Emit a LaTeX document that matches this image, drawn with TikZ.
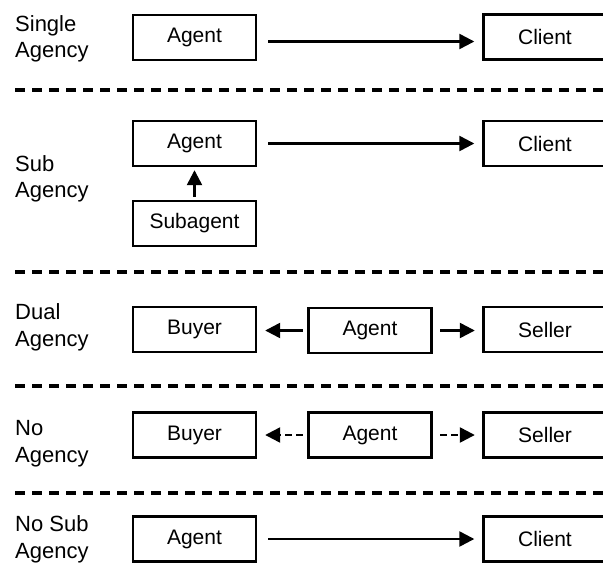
\documentclass[tikz,border=0pt]{standalone}
\usepackage{fontspec}
\setmainfont{Liberation Sans}
\usetikzlibrary{arrows.meta}
\begin{document}
\begin{tikzpicture}[x=1pt,y=-1pt,
  box/.style={draw,line width=2.4pt,minimum width=123pt,minimum height=45pt,inner sep=0pt,font=\fontsize{21}{25}\selectfont},
  lbl/.style={anchor=base west,align=left,inner sep=0pt,font=\fontsize{22}{26.7}\selectfont},
  arr/.style={line width=2.4pt,-{Triangle[length=15pt,width=15pt]}},
  darr/.style={arr,dash pattern=on 7pt off 4pt},
  sep/.style={line width=3.2pt,dash pattern=on 10pt off 7pt}]
\clip (0,0) rectangle (603,563);
% labels (anchored at the baseline of the last line)
\node[lbl] (l1) at (15,57.7) {Single\\Agency};
\node[lbl] (l2) at (15,197.7) {Sub\\Agency};
\node[lbl] (l3) at (15,346) {Dual\\Agency};
\node[lbl] (l4) at (15,462.5) {No\\Agency};
\node[lbl] (l5) at (15,558.3) {No Sub\\Agency};
% row 1
\node[box] (a1) at (194.5,37.5) {Agent};
\node[box] (c1) at (545,37) {Client};
\draw[arr,shorten <=11pt,shorten >=8pt] ([yshift=-4pt]a1.east) -- ([yshift=-4pt]a1.east -| c1.west);
% row 2
\node[box] (a2) at (194.5,143.5) {Agent};
\node[box] (c2) at (545,143.5) {Client};
\node[box] (s2) at (194.5,223.5) {Subagent};
\draw[arr,shorten <=11pt,shorten >=8pt] (a2) -- (c2);
\draw[arr,shorten <=3pt,shorten >=3pt] (s2) -- (a2);
% row 3
\node[box] (b3) at (194.5,329.5) {Buyer};
\node[box] (a3) at (370,330.5) {Agent};
\node[box] (e3) at (545,329.5) {Seller};
\draw[arr,shorten <=4.5pt,shorten >=8pt] (a3.west) -- (a3.west -| b3.east);
\draw[arr,shorten <=7.5pt,shorten >=7.5pt] (a3.east) -- (a3.east -| e3.west);
% row 4
\node[box] (b4) at (194.5,435) {Buyer};
\node[box] (a4) at (370,435) {Agent};
\node[box] (e4) at (545,435) {Seller};
\draw[darr,shorten <=4.5pt,shorten >=8pt] (a4) -- (b4);
\draw[darr,shorten <=7.5pt,shorten >=7.5pt] (a4) -- (e4);
% row 5
\node[box] (a5) at (194.5,539) {Agent};
\node[box] (c5) at (545,539) {Client};
\draw[arr,shorten <=11pt,shorten >=8pt] (a5) -- (c5);
% separators
\draw[sep] (15,90) -- (603,90);
\draw[sep] (15,272) -- (603,272);
\draw[sep] (15,386) -- (603,386);
\draw[sep] (15,493) -- (603,493);
\end{tikzpicture}
\end{document}
